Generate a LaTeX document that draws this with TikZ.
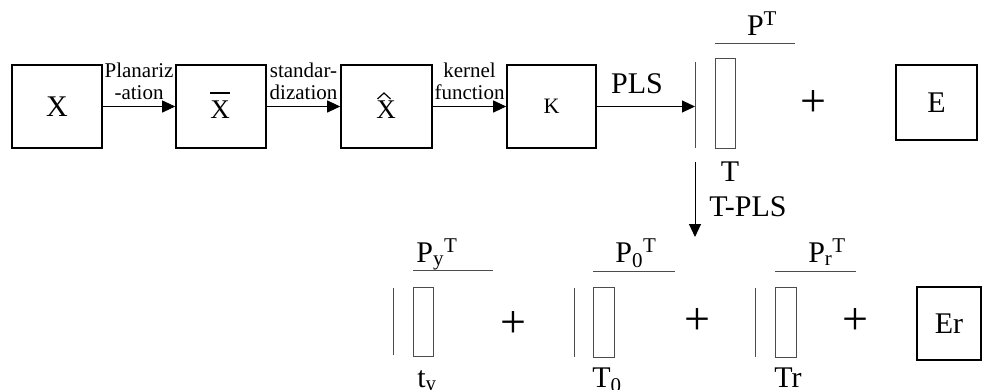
\documentclass[tikz,border=0pt]{standalone}
\usepackage{fontspec}
\setmainfont{Liberation Serif}
\usetikzlibrary{arrows.meta}
\newcommand\bigf{\fontsize{30}{34}\selectfont}
\newcommand\midf{\fontsize{27}{30}\selectfont}
\newcommand\lblf{\fontsize{21}{22.6}\selectfont}
\begin{document}
\begin{tikzpicture}[x=1pt,y=-1pt,
  box/.style={draw,line width=1.6pt,inner sep=0pt,font=\bigf},
  arr/.style={-{Triangle[length=13pt,width=12pt]},line width=1pt},
  lbl/.style={font=\lblf,align=center,inner sep=1pt},
  big/.style={font=\bigf,inner sep=0pt},
  bar/.style={draw=black!70,line width=1pt},
  accent/.style={draw=black,line width=1.4pt},
  vbar/.style={inner sep=0pt,minimum width=0pt},
  slim/.style={draw=black!70,line width=1pt,inner sep=0pt,minimum width=20pt},
  plus/.style={font=\fontsize{46}{50}\selectfont,inner sep=0pt}]

\useasboundingbox (0,0) rectangle (983,389);

% top row boxes
\node[box,minimum width=90pt,minimum height=83pt] (x) at (57,106.5) {X};
\node[box,minimum width=90pt,minimum height=83pt] (xb) at (221,106.5) {};
\node[big,font=\midf,anchor=base] (xbl) at (220,118) {X};
\draw[accent] (210,93) -- (230,93);
\node[box,minimum width=91pt,minimum height=83pt] (xh) at (386.5,106.5) {};
\node[big,font=\midf,anchor=base] (xhl) at (386,118) {X};
\draw[accent,line width=1.2pt,line join=miter] (377.5,99) -- (384,93) -- (390.5,99);
\node[box,minimum width=89pt,minimum height=83pt,font=\fontsize{22}{26}\selectfont] (k) at (551.5,106.5) {K};
\node[box,minimum width=81pt,minimum height=75pt] (e) at (936.5,102.5) {E};

\draw[arr] (x) -- (xb) node[lbl,midway,above=5pt] {Planariz\\-ation};
\draw[arr] (xb) -- (xh) node[lbl,midway,above=5pt] {standar-\\dization};
\draw[arr] (xh) -- (k) node[lbl,midway,above=5pt] {kernel\\function};

% T decomposition
\node[vbar,minimum height=86pt] (tbar) at (695,105) {};
\draw[bar] (tbar.north) -- (tbar.south);
\node[slim,minimum height=90pt] (trect) at (725,103) {};
\draw[bar] (715,43) -- (795,43);
\node[big,anchor=base] (pt) at (762,35) {P\textsuperscript{T}};
\node[plus] (pl0) at (813,104) {+};
\node[big,anchor=base] (tl) at (730,181) {T};

\draw[arr] (k) -- (k -| tbar);
\node[big,anchor=base] (pls) at (637,93) {PLS};

\coordinate (dtop) at (695,162);
\coordinate (dbot) at (695,237);
\draw[arr] (dtop) -- (dbot);
\node[big,anchor=base] (tpls) at (748,216) {T-PLS};

% bottom row
\node[vbar,minimum height=67pt] (b1) at (393,321.5) {};
\draw[bar] (b1.north) -- (b1.south);
\node[slim,minimum height=69pt] (r1) at (423,321.5) {};
\draw[bar] (413,270) -- (493,270);
\node[big,anchor=base] (py) at (437,262) {P\textsubscript{y}\textsuperscript{T}};
\node[big,anchor=base] (ty) at (427,387) {t\textsubscript{y}};
\node[plus] (pl1) at (513,325) {+};

\node[vbar,minimum height=69pt] (b2) at (574,322.5) {};
\draw[bar] (b2.north) -- (b2.south);
\node[slim,minimum width=21pt,minimum height=70pt] (r2) at (603.5,322.5) {};
\draw[bar] (593,271) -- (675,271);
\node[big,anchor=base] (p0) at (636,262) {P\textsubscript{0}\textsuperscript{T}};
\node[big,anchor=base] (t0) at (607,387) {T\textsubscript{0}};
\node[plus] (pl2) at (697,322) {+};

\node[vbar,minimum height=69pt] (b3) at (755,322.5) {};
\draw[bar] (b3.north) -- (b3.south);
\node[slim,minimum width=21pt,minimum height=70pt] (r3) at (785.5,322.5) {};
\draw[bar] (775,271) -- (856,271);
\node[big,anchor=base] (pr) at (827,262) {P\textsubscript{r}\textsuperscript{T}};
\node[big,anchor=base] (tr) at (788,387) {Tr};
\node[plus] (pl3) at (855,322) {+};

\node[box,minimum width=64pt,minimum height=73pt] (er) at (949,323.5) {Er};
\end{tikzpicture}
\end{document}
